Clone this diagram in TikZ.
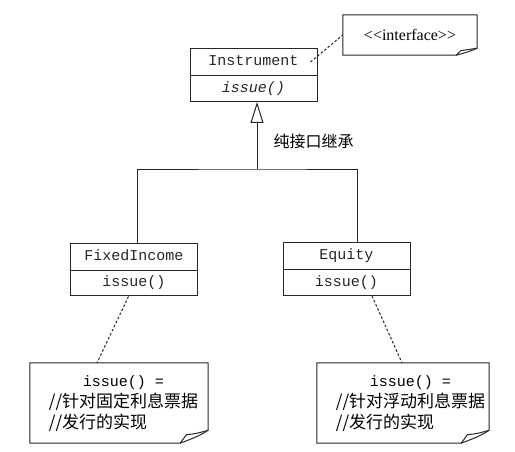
\documentclass[tikz,border=0pt]{standalone}
\usepackage{fontspec}
\setmainfont{Liberation Serif}
\setmonofont{Liberation Mono}
\newfontfamily\cjk{Noto Sans CJK SC}
\usetikzlibrary{arrows.meta,positioning,shapes.multipart}

% note outline with a curled lower right corner
\newcommand\notebox[3]{%
  \draw[ln] (#1.north west) -- (#1.north east) -- ([yshift=#3]#1.south east)
    .. controls ([shift={(-0.3*#2,0.55*#3)}]#1.south east) and ([shift={(-0.7*#2,0.25*#3)}]#1.south east) .. ([xshift=-#2]#1.south east)
    -- (#1.south west) -- cycle;
  \draw[ln] ([xshift=-#2]#1.south east) -- ([shift={(-0.78*#2,0.65*#3)}]#1.south east)
    .. controls ([shift={(-0.4*#2,0.75*#3)}]#1.south east) .. ([yshift=#3]#1.south east);}

\begin{document}
\begin{tikzpicture}[x=1pt,y=-1pt,ln/.style={line width=1pt,black!85},
cls/.style={ln,draw,rectangle split,rectangle split parts=2,minimum width=127pt,text height=11pt,text depth=4pt,inner ysep=5.5pt,font=\fontsize{15}{18}\ttfamily},
note/.style={inner sep=0pt,minimum height=80pt,font=\fontsize{17}{21}\cjk},
dep/.style={ln,dash pattern=on 2.5pt off 2pt},
inh/.style={ln,-{Triangle[open,length=21pt,width=13pt,fill=white]}}]
\useasboundingbox (0,0) rectangle (515,451);
\node[cls] (ins) at (253.5,75) {Instrument\nodepart{two}\itshape issue()};
\node[inner sep=0pt,minimum width=134pt,minimum height=40pt,font=\fontsize{16}{18}\rmfamily] (intf) at (410,35) {<{}<interface>{}>};
\node[cls] (fi) at (134,269.5) {FixedIncome\nodepart{two}issue()};
\node[cls] (eq) at (346.5,269) {Equity\nodepart{two}issue()};
\node[note,minimum width=178pt] (lnote) at (119,403) {\hspace*{9pt}\begin{tabular}{@{}l@{}}\multicolumn{1}{@{}c@{}}{\fontsize{15}{18}\ttfamily issue() =}\\//针对固定利息票据\\//发行的实现\end{tabular}};
\node[note,minimum width=172pt] (rnote) at (403,403) {\hspace*{15pt}\begin{tabular}{@{}l@{}}\multicolumn{1}{@{}c@{}}{\fontsize{15}{18}\ttfamily issue() =}\\//针对浮动利息票据\\//发行的实现\end{tabular}};
\notebox{intf}{21pt}{7pt}
\notebox{lnote}{28pt}{13pt}
\notebox{rnote}{28pt}{13pt}
\coordinate (join) at (257,169);
\node[anchor=west,font=\fontsize{16}{18}\cjk] (lbl) at (270,141) {纯接口继承};
\draw[ln] ([xshift=3pt]fi.north) |- (join) -| ([xshift=10.5pt]eq.north);
\draw[inh] (join) -- ([xshift=3.5pt]ins.south);
\draw[dep] ([shift={(-7pt,-14pt)}]ins.north east) -- (intf.west);
\draw[dep] ([xshift=-5.5pt]fi.south) -- ([xshift=-22pt]lnote.north);
\draw[dep] ([xshift=25.5pt]eq.south) -- ([xshift=-1pt]rnote.north);
\end{tikzpicture}
\end{document}
